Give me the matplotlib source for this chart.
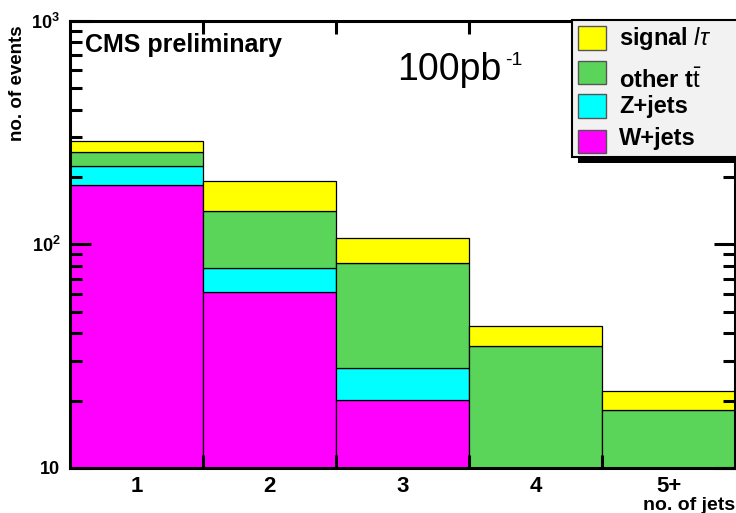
import numpy as np
import matplotlib.pyplot as plt
from matplotlib.patches import Rectangle
from matplotlib.ticker import FixedLocator, NullFormatter

plt.rcParams['font.family'] = ['Liberation Sans', 'DejaVu Sans']
plt.rcParams['mathtext.fontset'] = 'custom'
plt.rcParams['mathtext.rm'] = 'Liberation Sans'
plt.rcParams['mathtext.it'] = 'Liberation Sans:italic'
plt.rcParams['mathtext.bf'] = 'Liberation Sans:bold'

# events per jet-multiplicity bin, stacked bottom to top
jet_bins = ["1", "2", "3", "4", "5+"]
wjets = [184, 61, 20, 0, 0]
zjets = [39, 17, 8, 0, 0]
other_tt = [35, 62, 54, 35, 18]
signal = [31, 51, 24, 8, 4]

series = [
    ("W+jets", wjets, "#ff00ff"),
    ("Z+jets", zjets, "#00ffff"),
    (r"other t$\bar{\mathrm{t}}$", other_tt, "#5ad55a"),
    (r"signal $\mathit{l}\tau$", signal, "#ffff00"),
]

fig = plt.figure(figsize=(7.36, 5.13), dpi=100)
ax = fig.add_axes([70 / 736, 1 - 468 / 513, 665 / 736, 447.5 / 513])

x = np.arange(1, len(jet_bins) + 1)
bottom = np.full(len(x), 1e-1)
for name, vals, col in series:
    vals = np.array(vals, dtype=float)
    ax.bar(x, vals, width=1.0, bottom=bottom, color=col,
           edgecolor="black", linewidth=0.9)
    bottom = bottom + vals

ax.set_yscale("log")
ax.set_ylim(10, 1000)
ax.set_xlim(0.5, 5.5)

# ticks: bin edges get tick marks, bin centres get labels
ax.xaxis.set_major_locator(FixedLocator(np.arange(1.5, 5.5, 1.0)))
ax.xaxis.set_major_formatter(NullFormatter())
ax.xaxis.set_minor_locator(FixedLocator(x))
ax.set_xticklabels(jet_bins, minor=True, fontsize=16, fontweight="bold")
ax.tick_params(axis="x", which="major", direction="in", length=9.5, width=2.2,
               top=True, bottom=True)
ax.tick_params(axis="x", which="minor", length=0, pad=6)

ax.yaxis.set_major_locator(FixedLocator([10, 100, 1000]))
ax.set_yticklabels(["10", r"$\mathbf{10^{2}}$", r"$\mathbf{10^{3}}$"],
                   fontsize=13, fontweight="bold")
ax.yaxis.set_minor_locator(FixedLocator(
    [m * d for d in (10, 100) for m in range(2, 10)]))
ax.yaxis.set_minor_formatter(NullFormatter())
ax.tick_params(axis="y", which="major", direction="in", length=15, width=2.2,
               left=True, right=True, pad=7)
ax.tick_params(axis="y", which="minor", direction="in", length=8.5, width=2.2,
               left=True, right=True)
for sp in ax.spines.values():
    sp.set_linewidth(2.2)
ax.set_axisbelow(False)

fig.text(735 / 736, 1 - 505 / 513, "no. of jets", ha="right", va="center",
         fontsize=14, fontweight="bold")
fig.text(18 / 736, 1 - 25 / 513, "no. of events", ha="center", va="top",
         rotation=90, fontsize=13.5, fontweight="bold")

fig.text(85 / 736, 1 - 45 / 513, "CMS preliminary", ha="left", va="center",
         fontsize=18, fontweight="bold")
lumi = fig.text(397 / 736, 1 - 80 / 513, "100pb", ha="left", va="baseline",
                fontsize=27)
fig.text(505 / 736, 1 - 52 / 513, "-1", ha="left", va="top", fontsize=14)

# legend box with drop shadow
def px(x0, y0, w, h):
    return (x0 / 736, 1 - (y0 + h) / 513), w / 736, h / 513

xy, w, h = px(578, 26, 170, 137)
fig.patches.append(Rectangle(xy, w, h, transform=fig.transFigure,
                             facecolor="black", edgecolor="none", zorder=5))
xy, w, h = px(572, 20, 170, 137)
fig.patches.append(Rectangle(xy, w, h, transform=fig.transFigure,
                             facecolor="#f2f2f2", edgecolor="black",
                             linewidth=1.5, zorder=6))

box_y = [38, 72, 106, 141]
text_y = [38, 81, 106, 139]
for (name, vals, col), by, ty in zip(series[::-1], box_y, text_y):
    xy, w, h = px(578, by - 11.5, 28, 23)
    fig.patches.append(Rectangle(xy, w, h, transform=fig.transFigure,
                                 facecolor=col, edgecolor="#555555",
                                 linewidth=1.0, zorder=7))
    fig.text(619 / 736, 1 - ty / 513, name, ha="left", va="center",
             fontsize=17, fontweight="bold", zorder=8)

fig.savefig("out.png", dpi=100)
